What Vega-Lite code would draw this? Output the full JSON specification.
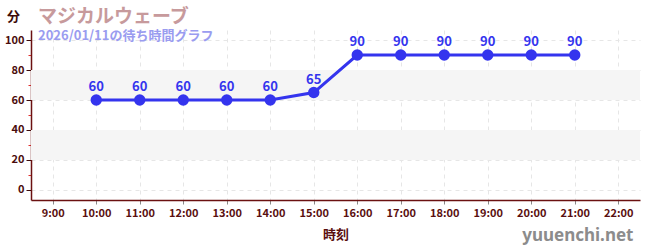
{
  "$schema": "https://vega.github.io/schema/vega-lite/v6.json",
  "width": 609,
  "height": 170,
  "autosize": {"type": "none"},
  "padding": {"left": 31, "top": 30, "right": 10, "bottom": 50},
  "background": "white",
  "config": {
    "font": "Noto Sans CJK JP",
    "view": {"stroke": null},
    "axis": {"labelOverlap": false}
  },
  "title": {
    "text": "マジカルウェーブ",
    "subtitle": "2026/01/11の待ち時間グラフ",
    "anchor": "start",
    "frame": "group",
    "orient": "top",
    "font": "Noto Sans CJK JP",
    "fontSize": 19,
    "fontWeight": "bold",
    "color": "#c79a9c",
    "subtitleFont": "Noto Sans CJK JP",
    "subtitleFontSize": 13,
    "subtitleFontWeight": "bold",
    "subtitleColor": "#9a9cf0",
    "subtitlePadding": 3,
    "dx": 7,
    "dy": 23,
    "offset": -10
  },
  "datasets": {
    "waits": [
      {"hour": 10, "wait": 60},
      {"hour": 11, "wait": 60},
      {"hour": 12, "wait": 60},
      {"hour": 13, "wait": 60},
      {"hour": 14, "wait": 60},
      {"hour": 15, "wait": 65},
      {"hour": 16, "wait": 90},
      {"hour": 17, "wait": 90},
      {"hour": 18, "wait": 90},
      {"hour": 19, "wait": 90},
      {"hour": 20, "wait": 90},
      {"hour": 21, "wait": 90}
    ],
    "bands": [
      {"wait": 20, "hi": 40},
      {"wait": 60, "hi": 80}
    ],
    "mark": [
      {"hour": 22.35, "wait": -30.5, "label": "yuuenchi.net"}
    ]
  },
  "encoding": {
    "y": {
      "field": "wait", "type": "quantitative",
      "scale": {"domain": [-6.7, 106.7], "nice": false, "zero": false},
      "axis": {
        "values": [0, 10, 20, 30, 40, 50, 60, 70, 80, 90, 100],
        "labelExpr": "datum.value % 20 == 0 ? datum.label : ''",
        "labelOverlap": false,
        "title": "分",
        "titleAngle": 0,
        "titleX": -18,
        "titleY": -14,
        "titleAlign": "center",
        "titleBaseline": "middle",
        "titleFontSize": 13,
        "titleFontWeight": "bold",
        "titleColor": "#3d0a0a",
        "labelFontSize": 11,
        "labelFontWeight": "bold",
        "labelColor": "#4a0c0c",
        "labelPadding": 2,
        "domainColor": "#6b1111",
        "domainWidth": 1.5,
        "tickColor": {"condition": {"test": "datum.value % 20 == 0", "value": "#3d0a0a"}, "value": "#e03030"},
        "tickSize": {"condition": {"test": "datum.value % 20 == 0", "value": 5}, "value": 3},
        "grid": true,
        "gridColor": "#e6e6e6",
        "gridDash": [4, 4],
        "gridOpacity": {"condition": {"test": "datum.value % 20 == 0", "value": 1}, "value": 0}
      }
    }
  },
  "layer": [
    {
      "data": {"name": "bands"},
      "mark": {"type": "rect", "color": "#f5f5f5"},
      "encoding": {
        "y2": {"field": "hi"}
      }
    },
    {
      "data": {"name": "waits"},
      "mark": {"type": "line", "color": "#3434ee", "strokeWidth": 3},
      "encoding": {
        "x": {
          "field": "hour", "type": "quantitative",
          "scale": {"domain": [8.5, 22.5], "nice": false, "zero": false},
          "axis": {
            "values": [9, 10, 11, 12, 13, 14, 15, 16, 17, 18, 19, 20, 21, 22],
            "labelExpr": "datum.value + ':00'",
            "labelOverlap": false,
            "title": "時刻",
            "titleFontSize": 13,
            "titleFontWeight": "bold",
            "titleColor": "#5a0f0f",
            "titlePadding": 10,
            "labelFontSize": 11,
            "labelFontWeight": "bold",
            "labelColor": "#5a0f0f",
            "labelPadding": 3,
            "domainColor": "#6b1111",
            "domainWidth": 1.5,
            "tickColor": "#888888",
            "tickSize": 4,
            "grid": true,
            "gridColor": "#e6e6e6",
            "gridDash": [4, 4]
          }
        }
      }
    },
    {
      "data": {"name": "waits"},
      "mark": {"type": "point", "filled": true, "size": 130, "color": "#3434ee", "opacity": 1},
      "encoding": {
        "x": {"field": "hour", "type": "quantitative"}
      }
    },
    {
      "data": {"name": "waits"},
      "mark": {"type": "text", "dy": -13, "fontSize": 13, "fontWeight": "bold", "color": "#3434ee"},
      "encoding": {
        "x": {"field": "hour", "type": "quantitative"},
        "text": {"field": "wait", "type": "quantitative"}
      }
    },
    {
      "data": {"name": "mark"},
      "mark": {"type": "text", "align": "right", "baseline": "middle", "fontSize": 17, "font": "Noto Sans", "fontWeight": "bold", "color": "#8c8c8c"},
      "encoding": {
        "x": {"field": "hour", "type": "quantitative"},
        "text": {"field": "label", "type": "nominal"}
      }
    }
  ]
}
